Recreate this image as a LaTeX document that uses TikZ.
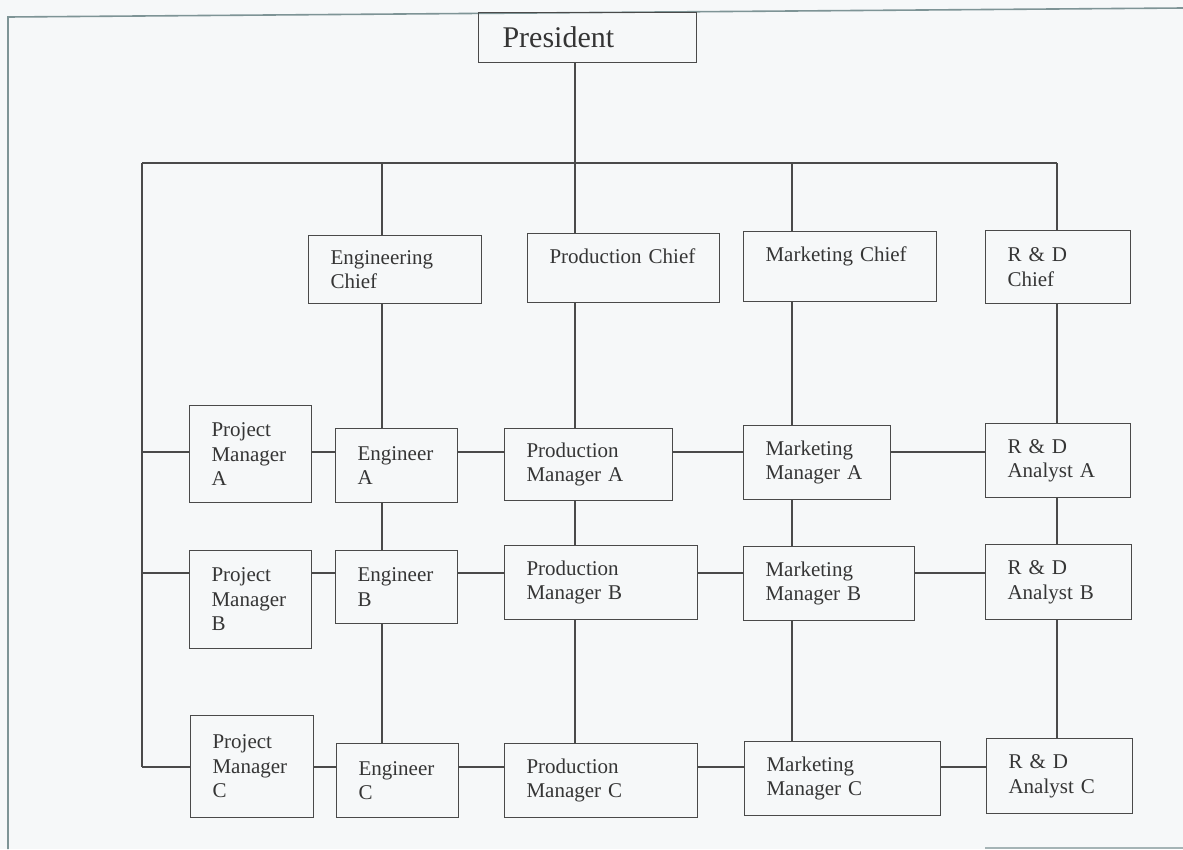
\documentclass[tikz,border=0pt]{standalone}
\usepackage{fontspec}
\setmainfont{Liberation Serif}
\usepackage{tikz}
\usetikzlibrary{positioning, calc}
\definecolor{bgcol}{HTML}{F6F8F9}
\definecolor{framecol}{HTML}{7E9496}
\definecolor{boxcol}{HTML}{4A4A4A}
\definecolor{textcol}{HTML}{353535}
\hyphenpenalty=10000
\exhyphenpenalty=10000

\begin{document}
\begin{tikzpicture}[x=1pt,y=-1pt,line width=1.1pt,
    box/.style={draw=boxcol,rectangle,anchor=north west,align=left,
        inner xsep=22pt,inner ysep=0pt,text=textcol,
        font=\fontsize{21}{24.5}\selectfont},
    top/.style={box,inner xsep=24pt,font=\fontsize{30}{34}\selectfont},
    every edge/.style={draw=boxcol,line width=1.1pt}]

\useasboundingbox (0,0) rectangle (1183,849);
\fill[bgcol] (0,0) rectangle (1183,849);
\draw[framecol,line width=1.6pt] (8,849) -- (8,17) -- (1183,8);
\draw[framecol!70,line width=1.4pt] (985,848) -- (1183,848);

\node[top,text width=170pt,minimum height=50pt] (P) at (478,12) {President};

% chiefs
\node[box,text width=129pt,minimum height=68pt] (H1) at (308,235) {Engineering\\Chief};
\node[box,text width=148pt,minimum height=69pt] (H2) at (527,233) {Production~Chief\\\mbox{}};
\node[box,text width=149pt,minimum height=70pt] (H3) at (743,231) {Marketing~Chief\\\mbox{}};
\node[box,text width=101pt,minimum height=73pt] (H4) at (985,230) {R~\&~D\\Chief};

% project A
\node[box,text width=78pt,minimum height=97pt] (A1) at (189,405) {Project\\Manager\\A};
\node[box,text width=78pt,minimum height=74pt] (A2) at (335,428) {Engineer\\A};
\node[box,text width=124pt,minimum height=72pt] (A3) at (504,428) {Production\\Manager~A};
\node[box,text width=103pt,minimum height=74pt] (A4) at (743,425) {Marketing\\Manager~A};
\node[box,text width=101pt,minimum height=74pt] (A5) at (985,423) {R~\&~D\\Analyst~A};

% project B
\node[box,text width=78pt,minimum height=98pt] (B1) at (189,550) {Project\\Manager\\B};
\node[box,text width=78pt,minimum height=73pt] (B2) at (335,550) {Engineer\\B};
\node[box,text width=149pt,minimum height=74pt] (B3) at (504,545) {Production\\Manager~B};
\node[box,text width=127pt,minimum height=74pt] (B4) at (743,546) {Marketing\\Manager~B};
\node[box,text width=102pt,minimum height=75pt] (B5) at (985,544) {R~\&~D\\Analyst~B};

% project C
\node[box,text width=79pt,minimum height=102pt] (C1) at (190,715) {Project\\Manager\\C};
\node[box,text width=78pt,minimum height=74pt] (C2) at (336,743) {Engineer\\C};
\node[box,text width=149pt,minimum height=74pt] (C3) at (504,743) {Production\\Manager~C};
\node[box,text width=152pt,minimum height=74pt] (C4) at (744,741) {Marketing\\Manager~C};
\node[box,text width=102pt,minimum height=75pt] (C5) at (986,738) {R~\&~D\\Analyst~C};

% bus and column / row lines
\coordinate (k0) at (142,163);
\coordinate (k1) at (382,163);
\coordinate (k2) at (575,163);
\coordinate (k3) at (792,163);
\coordinate (k4) at (1057,163);
\coordinate (rA) at (142,452);
\coordinate (rB) at (142,573);
\coordinate (rC) at (142,767);

\path
    (P.south -| k2) edge (k2)
    (k0) edge (k4)
    (k0) edge (rC);
\path
    (k1) edge (k1 |- H1.north)
    (k2) edge (k2 |- H2.north)
    (k3) edge (k3 |- H3.north)
    (k4) edge (k4 |- H4.north);
\path
    (H1.south -| k1) edge (A2.north -| k1)
    (A2.south -| k1) edge (B2.north -| k1)
    (B2.south -| k1) edge (C2.north -| k1)
    (H2.south -| k2) edge (A3.north -| k2)
    (A3.south -| k2) edge (B3.north -| k2)
    (B3.south -| k2) edge (C3.north -| k2)
    (H3.south -| k3) edge (A4.north -| k3)
    (A4.south -| k3) edge (B4.north -| k3)
    (B4.south -| k3) edge (C4.north -| k3)
    (H4.south -| k4) edge (A5.north -| k4)
    (A5.south -| k4) edge (B5.north -| k4)
    (B5.south -| k4) edge (C5.north -| k4);
\path
    (rA) edge (A1.west |- rA)
    (A1.east |- rA) edge (A2.west |- rA)
    (A2.east |- rA) edge (A3.west |- rA)
    (A3.east |- rA) edge (A4.west |- rA)
    (A4.east |- rA) edge (A5.west |- rA);
\path
    (rB) edge (B1.west |- rB)
    (B1.east |- rB) edge (B2.west |- rB)
    (B2.east |- rB) edge (B3.west |- rB)
    (B3.east |- rB) edge (B4.west |- rB)
    (B4.east |- rB) edge (B5.west |- rB);
\path
    (rC) edge (C1.west |- rC)
    (C1.east |- rC) edge (C2.west |- rC)
    (C2.east |- rC) edge (C3.west |- rC)
    (C3.east |- rC) edge (C4.west |- rC)
    (C4.east |- rC) edge (C5.west |- rC);
\end{tikzpicture}
\end{document}
